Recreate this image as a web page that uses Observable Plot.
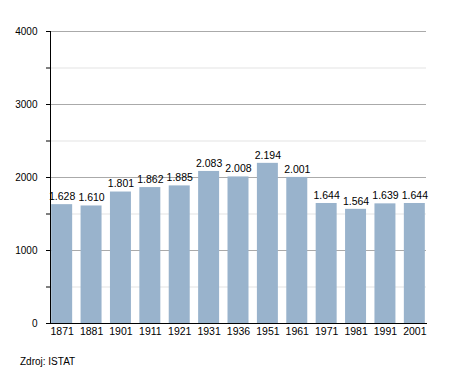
<!DOCTYPE html>
<html>
<head>
<meta charset="utf-8">
<script src="https://cdn.jsdelivr.net/npm/d3@7"></script>
<script src="https://cdn.jsdelivr.net/npm/@observablehq/plot@0.6"></script>
<style>
  body { margin: 0; background: #fff; font-family: "Liberation Sans", Arial, sans-serif; }
  #caption { font-size: 10px; color: #000; margin: 11px 0 0 20px; }
</style>
</head>
<body>
<div id="chart"></div>
<div id="caption">Zdroj: ISTAT</div>
<script>
const years = ["1871","1881","1901","1911","1921","1931","1936","1951","1961","1971","1981","1991","2001"];
const population = [1628,1610,1801,1862,1885,2083,2008,2194,2001,1644,1564,1639,1644];
const majorTicks = [0,1000,2000,3000,4000];
const minorTicks = [500,1500,2500,3500];

const data = years.map((y, i) => ({year: y, value: population[i]}));
const fmt = d3.formatLocale({decimal: ",", thousands: ".", grouping: [3]}).format(",d");

const chart = Plot.plot({
  width: 455,
  height: 345,
  marginLeft: 50,
  marginRight: 29,
  marginTop: 31,
  marginBottom: 22,
  style: {fontFamily: "Liberation Sans, Arial, sans-serif", fontSize: "10px", color: "#000", background: "#fff"},
  x: {domain: years, paddingInner: 0.286, paddingOuter: 0.04, round: false, label: null},
  y: {domain: [0, 4000], label: null},
  marks: [
    Plot.ruleY(minorTicks, {stroke: "#e3e3e3", strokeWidth: 1}),
    Plot.ruleY(majorTicks.filter(d => d > 0), {stroke: "#aaaaaa", strokeWidth: 1}),
    Plot.barY(data, {x: "year", y: "value", fill: "#99b3cc"}),
    Plot.text(data, {x: "year", y: "value", text: d => fmt(d.value), dy: -8, fill: "#000", fontSize: 10.5}),
    Plot.axisX({tickSize: 0, tickPadding: 4, fontSize: 10.5, fill: "#000"}),
    Plot.axisY({ticks: [...majorTicks, ...minorTicks], tickFormat: d => d % 1000 === 0 ? String(d) : "", tickSize: 4, tickPadding: 9, fontSize: 10, stroke: "#000", fill: "#000"}),
    Plot.frame({anchor: "left", stroke: "#000"}),
    Plot.frame({anchor: "bottom", stroke: "#000"})
  ]
});
document.getElementById("chart").appendChild(chart);
</script>
</body>
</html>
